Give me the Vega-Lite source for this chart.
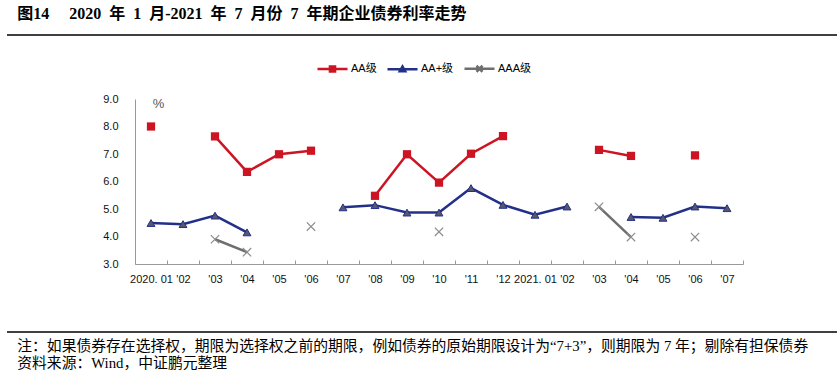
{
  "$schema": "https://vega.github.io/schema/vega-lite/v6.json",
  "background": "white",
  "padding": {"left": 6, "right": 0, "top": 6, "bottom": 0},
  "config": {"view": {"stroke": null}, "font": "Liberation Sans"},
  "columns": 1,
  "align": "none",
  "spacing": 16,
  "resolve": {
    "scale": {"color": "independent"},
    "legend": {"color": "independent"}
  },
  "concat": [
    {
      "width": 831,
      "height": 1,
      "title": {
        "text": "图14\u3000\u00a02020\u00a0\u00a0年\u00a0\u00a01\u00a0\u00a0月-2021\u00a0\u00a0年\u00a0\u00a07\u00a0\u00a0月份\u00a0\u00a07\u00a0\u00a0年期企业债券利率走势",
        "anchor": "start",
        "font": "Liberation Serif, Noto Sans CJK SC",
        "fontSize": 16,
        "fontWeight": "bold",
        "color": "#000",
        "offset": 12,
        "dx": 11
      },
      "data": {"values": [{"a": 0, "b": 1}]},
      "mark": {"type": "rule", "color": "#000", "strokeWidth": 1.5},
      "encoding": {
        "x": {"field": "a", "type": "quantitative", "scale": {"domain": [0, 1], "nice": false, "zero": false}, "axis": null},
        "x2": {"field": "b"},
        "y": {"datum": 0, "type": "quantitative", "scale": {"domain": [0, 1]}, "axis": null}
      }
    },
    {
      "spacing": 0,
      "resolve": {
        "scale": {"color": "independent"},
        "legend": {"color": "independent"}
      },
      "hconcat": [
        {
          "width": 95,
          "height": 1,
          "data": {"values": [{"a": 0, "b": 1}]},
          "mark": {"type": "rule", "strokeOpacity": 0},
          "encoding": {
            "x": {"field": "a", "type": "quantitative", "scale": {"domain": [0, 1], "nice": false, "zero": false}, "axis": null},
            "x2": {"field": "b"}
          }
        },
        {
          "width": 608,
          "height": 165,
          "data": {
            "values": [
              {"m": "2020-01", "AA级": 8.0, "AA+级": 4.49, "AAA级": null},
              {"m": "2020-02", "AA级": null, "AA+级": 4.45, "AAA级": null},
              {"m": "2020-03", "AA级": 7.64, "AA+级": 4.76, "AAA级": 3.9},
              {"m": "2020-04", "AA级": 6.35, "AA+级": 4.15, "AAA级": 3.43},
              {"m": "2020-05", "AA级": 6.99, "AA+级": null, "AAA级": null},
              {"m": "2020-06", "AA级": 7.12, "AA+级": null, "AAA级": 4.36},
              {"m": "2020-07", "AA级": null, "AA+级": 5.06, "AAA级": null},
              {"m": "2020-08", "AA级": 5.48, "AA+级": 5.14, "AAA级": null},
              {"m": "2020-09", "AA级": 6.99, "AA+级": 4.87, "AAA级": null},
              {"m": "2020-10", "AA级": 5.96, "AA+级": 4.87, "AAA级": 4.17},
              {"m": "2020-11", "AA级": 7.01, "AA+级": 5.76, "AAA级": null},
              {"m": "2020-12", "AA级": 7.65, "AA+级": 5.15, "AAA级": null},
              {"m": "2021-01", "AA级": null, "AA+级": 4.79, "AAA级": null},
              {"m": "2021-02", "AA级": null, "AA+级": 5.09, "AAA级": null},
              {"m": "2021-03", "AA级": 7.15, "AA+级": null, "AAA级": 5.08},
              {"m": "2021-04", "AA级": 6.93, "AA+级": 4.71, "AAA级": 3.98},
              {"m": "2021-05", "AA级": null, "AA+级": 4.68, "AAA级": null},
              {"m": "2021-06", "AA级": 6.95, "AA+级": 5.09, "AAA级": 3.98},
              {"m": "2021-07", "AA级": null, "AA+级": 5.03, "AAA级": null}
            ]
          },
          "transform": [{"fold": ["AA级", "AA+级", "AAA级"], "as": ["s", "v"]}],
          "encoding": {
            "x": {
              "field": "m",
              "type": "ordinal",
              "sort": null,
              "scale": {"type": "band", "paddingInner": 0, "paddingOuter": 0},
              "axis": {
                "title": null,
                "tickBand": "extent",
                "tickSize": -4,
                "tickColor": "#999",
                "domainColor": "#999",
                "labelAngle": 0,
                "labelOverlap": false,
                "labelFont": "Liberation Sans",
                "labelFontSize": 11,
                "labelColor": "#111",
                "labelPadding": 13,
                "labelExpr": "isString(datum.value) && length(datum.value) == 7 ? (substring(datum.value, 5) == '01' ? substring(datum.value, 0, 4) + '. 01' : \"'\" + substring(datum.value, 5)) : ''"
              }
            },
            "y": {
              "field": "v",
              "type": "quantitative",
              "scale": {"domain": [3, 9], "nice": false, "zero": false},
              "axis": {
                "values": [3, 4, 5, 6, 7, 8, 9],
                "format": ".1f",
                "ticks": false,
                "grid": false,
                "domainColor": "#999",
                "labelPadding": 17,
                "labelFont": "Liberation Sans",
                "labelFontSize": 11,
                "labelColor": "#111",
                "title": "%",
                "titleAngle": 0,
                "titleX": 23,
                "titleY": 4,
                "titleAlign": "center",
                "titleBaseline": "middle",
                "titleFont": "Liberation Sans",
                "titleFontWeight": "normal",
                "titleFontSize": 13,
                "titleColor": "#555"
              }
            }
          },
          "layer": [
            {
              "mark": {"type": "line", "strokeWidth": 2.5},
              "encoding": {
                "color": {
                  "field": "s",
                  "type": "nominal",
                  "scale": {"domain": ["AA级", "AA+级", "AAA级"], "range": ["#cc1423", "#23308a", "#6e6e6e"]},
                  "legend": {
                    "orient": "none",
                    "legendX": 181,
                    "legendY": -47,
                    "direction": "horizontal",
                    "title": null,
                    "symbolSize": 900,
                    "symbolStrokeWidth": 2.5,
                    "labelFont": "Liberation Sans, Noto Sans CJK SC",
                    "labelFontSize": 11,
                    "labelColor": "#000",
                    "columnPadding": 5,
                    "labelOffset": 2,
                    "padding": 0,
                    "encode": {
                      "symbols": {
                        "update": {
                          "shape": {"signal": "datum.value === 'AA级' ? 'M-1,0L1,0M-0.17,-0.17L0.17,-0.17L0.17,0.17L-0.17,0.17Z' : datum.value === 'AA+级' ? 'M-1,0L1,0M-0.18,0.14L0.18,0.14L0,-0.18Z' : 'M-1,0L1,0M-0.2,-0.2L0.2,0.2M-0.2,0.2L0.2,-0.2'"},
                          "fill": {"signal": "datum.value === 'AA级' ? '#cc1423' : datum.value === 'AA+级' ? '#58586a' : 'transparent'"},
                          "stroke": {"signal": "datum.value === 'AA级' ? '#cc1423' : datum.value === 'AA+级' ? '#23308a' : '#6e6e6e'"},
                          "strokeWidth": {"value": 2.5},
                          "size": {"value": 900}
                        }
                      }
                    }
                  }
                }
              }
            },
            {
              "transform": [{"filter": "datum.s === 'AA级'"}],
              "mark": {"type": "point", "shape": "square", "filled": true, "fill": "#cc1423", "strokeWidth": 0, "size": 68, "opacity": 1}
            },
            {
              "transform": [{"filter": "datum.s === 'AA+级'"}],
              "mark": {"type": "point", "shape": "triangle-up", "filled": true, "fill": "#58586a", "stroke": "#23308a", "strokeWidth": 1, "size": 62, "opacity": 1}
            },
            {
              "transform": [{"filter": "datum.s === 'AAA级'"}],
              "mark": {"type": "point", "shape": "M-1,-1L1,1M-1,1L1,-1", "filled": false, "fill": "transparent", "stroke": "#8c8c8c", "strokeWidth": 1.2, "size": 70, "opacity": 1}
            }
          ]
        }
      ]
    },
    {
      "width": 831,
      "height": 32,
      "title": {
        "text": ["注：如果债券存在选择权，期限为选择权之前的期限，例如债券的原始期限设计为“7+3”，则期限为 7 年；剔除有担保债券", "资料来源：Wind，中证鹏元整理"],
        "orient": "bottom",
        "anchor": "start",
        "font": "Liberation Serif, Noto Sans CJK SC",
        "fontSize": 14.8,
        "fontWeight": "normal",
        "color": "#000",
        "lineHeight": 17,
        "offset": 6,
        "dx": 11
      },
      "data": {"values": [{"a": 0, "b": 1}]},
      "mark": {"type": "rule", "color": "#000", "strokeWidth": 1.5},
      "encoding": {
        "x": {"field": "a", "type": "quantitative", "scale": {"domain": [0, 1], "nice": false, "zero": false}, "axis": null},
        "x2": {"field": "b"},
        "y": {"datum": 0, "type": "quantitative", "scale": {"domain": [0, 1]}, "axis": null}
      }
    }
  ]
}
